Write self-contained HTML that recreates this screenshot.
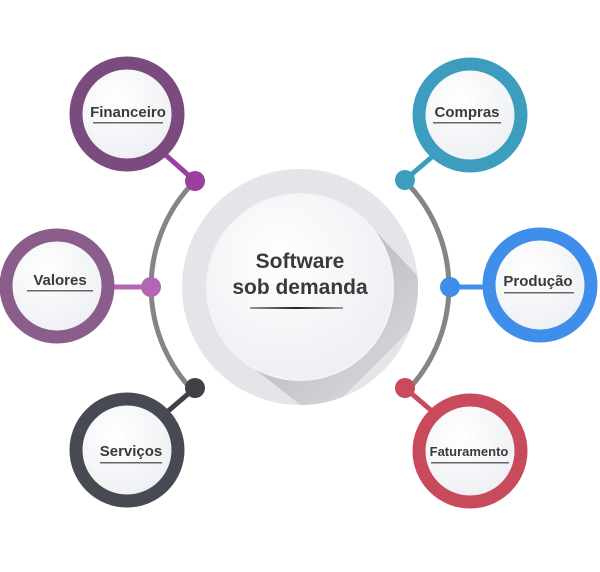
<!DOCTYPE html><html><head><style>body{margin:0;background:#fff}svg{display:block}text{font-family:"Liberation Sans",sans-serif;font-weight:bold;fill:#3a3a3a}</style></head><body>
<svg width="600" height="572" viewBox="0 0 600 572">
<defs>
<radialGradient id="w" cx="40%" cy="35%" r="70%"><stop offset="0" stop-color="#fff"/><stop offset="1" stop-color="#eceef2"/></radialGradient>
<linearGradient id="sh" x1="0.3" y1="0.3" x2="1" y2="1"><stop offset="0" stop-color="#b8b9bc"/><stop offset="1" stop-color="#e4e5e9"/></linearGradient>
<linearGradient id="ul" x1="0" x2="1"><stop offset="0" stop-color="#999"/><stop offset=".5" stop-color="#222"/><stop offset="1" stop-color="#999"/></linearGradient>
<clipPath id="c"><circle cx="300" cy="287" r="118"/></clipPath>
</defs>
<path d="M195 181 A150 150 0 0 0 195 393" fill="none" stroke="#858585" stroke-width="5"/>
<path d="M405 181 A150 150 0 0 1 405 393" fill="none" stroke="#858585" stroke-width="5"/>
<circle cx="300" cy="287" r="118" fill="#e4e5e9"/>
<path d="M366 221 L440 300 L320 420 L234 353 Z" fill="url(#sh)" clip-path="url(#c)"/>
<circle cx="300" cy="287" r="93" fill="url(#w)" stroke="#f4f4f6" stroke-width="2"/>
<text x="300" y="268" font-size="21" text-anchor="middle">Software</text>
<text x="300" y="294" font-size="21" text-anchor="middle">sob demanda</text>
<rect x="250" y="307" width="93" height="2" fill="url(#ul)"/>
<g stroke-width="5">
<line x1="160" y1="150" x2="195" y2="181" stroke="#9a3f9e"/>
<line x1="110" y1="287" x2="150" y2="287" stroke="#b565b5"/>
<line x1="160" y1="418" x2="195" y2="388" stroke="#3f4147"/>
<line x1="440" y1="150" x2="405" y2="180" stroke="#3d9dbf"/>
<line x1="490" y1="287" x2="450" y2="287" stroke="#3f8eea"/>
<line x1="440" y1="418" x2="405" y2="388" stroke="#c94a5a"/>
</g>
<circle cx="195" cy="181" r="10" fill="#9a3f9e"/>
<circle cx="151" cy="287" r="10" fill="#b565b5"/>
<circle cx="195" cy="388" r="10" fill="#3f4147"/>
<circle cx="405" cy="180" r="10" fill="#3d9dbf"/>
<circle cx="450" cy="287" r="10" fill="#3f8eea"/>
<circle cx="405" cy="388" r="10" fill="#c94a5a"/>
<g stroke-width="13" fill="url(#w)">
<circle cx="127" cy="114" r="51" stroke="#7b4a7f"/>
<circle cx="57" cy="286" r="51" stroke="#8a5d8a"/>
<circle cx="127" cy="450" r="51" stroke="#474a52"/>
<circle cx="470" cy="115" r="51" stroke="#3d9dbf"/>
<circle cx="540" cy="285" r="51" stroke="#3f8eea"/>
<circle cx="470" cy="451" r="51" stroke="#c94a5a"/>
</g>
<g font-size="15" text-anchor="middle">
<text x="128" y="117">Financeiro</text>
<text x="60" y="285">Valores</text>
<text x="131" y="456">Serviços</text>
<text x="467" y="117">Compras</text>
<text x="538" y="286">Produção</text>
<text x="469" y="456" font-size="13">Faturamento</text>
</g>
<g fill="#666">
<rect x="93" y="122" width="70" height="1.5"/>
<rect x="27" y="290" width="66" height="1.5"/>
<rect x="100" y="462" width="62" height="1.5"/>
<rect x="433" y="122" width="68" height="1.5"/>
<rect x="504" y="292" width="70" height="1.5"/>
<rect x="431" y="462" width="78" height="1.5"/>
</g>
</svg></body></html>
